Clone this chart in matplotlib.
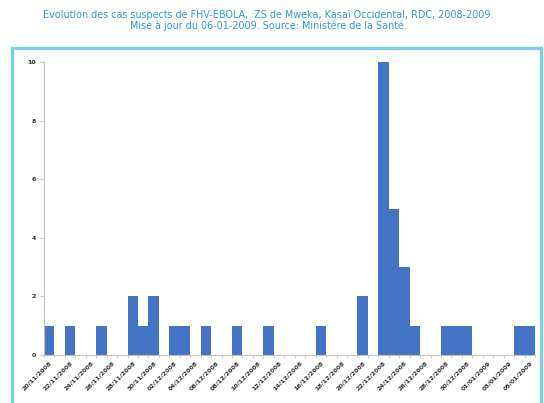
import matplotlib
matplotlib.use("Agg")
import matplotlib.pyplot as plt
from matplotlib.patches import Rectangle
import datetime as dt

# Data: daily counts of suspected cases
start_date = dt.date(2008, 11, 20)
n_days = 47
case_days = [0, 2, 5, 8, 9, 10, 12, 13, 15, 18, 21, 26, 30, 32, 33, 34, 35, 38, 39, 40, 45, 46]
case_counts = [1, 1, 1, 2, 1, 2, 1, 1, 1, 1, 1, 1, 2, 10, 5, 3, 1, 1, 1, 1, 1, 1]
label_step = 2
y_ticks = [0, 2, 4, 6, 8, 10]

title_l1 = "Evolution des cas suspects de FHV-EBOLA,  ZS de Mweka, Kasaï Occidental, RDC, 2008-2009."
title_l2 = "Mise à jour du 06-01-2009. Source: Ministère de la Santé."

W, H = 544, 403
fig = plt.figure(figsize=(W / 100, H / 100), dpi=100)
fig.patch.set_facecolor("white")

# chart frame
frame = Rectangle((12 / W, -0.05), (541 - 12) / W, 1.05 - 48 / H, transform=fig.transFigure,
                  fill=False, edgecolor="#7FCFEC", linewidth=2.4)
fig.patches.append(frame)

fig.text(268 / W, 1 - 15 / H, title_l1, ha="center", va="center", fontsize=6.9, color="#2E9AD3")
fig.text(268 / W, 1 - 26 / H, title_l2, ha="center", va="center", fontsize=6.9, color="#2E9AD3")

left, right = 44 / W, 535 / W
bottom, top = 1 - 355 / H, 1 - 62 / H
ax = fig.add_axes([left, bottom, right - left, top - bottom])

counts = [0] * n_days
for d, c in zip(case_days, case_counts):
    counts[d] = c
ax.bar(range(n_days), counts, width=1.0, color="#4472C4", edgecolor="none", align="edge")

ax.set_xlim(0, n_days)
ax.set_ylim(0, 10)
ax.set_yticks(y_ticks)
ax.set_yticklabels([str(v) for v in y_ticks], fontsize=4.5, color="#333333", fontweight="bold")

label_pos = list(range(0, n_days, label_step))
labels = [(start_date + dt.timedelta(days=i)).strftime("%d/%m/%Y") for i in label_pos]
ax.set_xticks([p + 0.5 for p in label_pos])
ax.set_xticklabels(labels, rotation=45, ha="right", rotation_mode="anchor",
                   fontsize=4.5, color="#333333", fontweight="bold")
ax.set_xticks(list(range(0, n_days + 1, 1)), minor=True)
ax.tick_params(axis="x", which="major", length=0, pad=4)
ax.tick_params(axis="x", which="minor", length=2.5, color="#C8C8C8")
ax.tick_params(axis="y", length=3, color="#C8C8C8", pad=3)

for s in ["top", "right"]:
    ax.spines[s].set_visible(False)
for s in ["left", "bottom"]:
    ax.spines[s].set_color("#C0C0C0")
    ax.spines[s].set_linewidth(0.8)

fig.savefig("out.png", dpi=100)
